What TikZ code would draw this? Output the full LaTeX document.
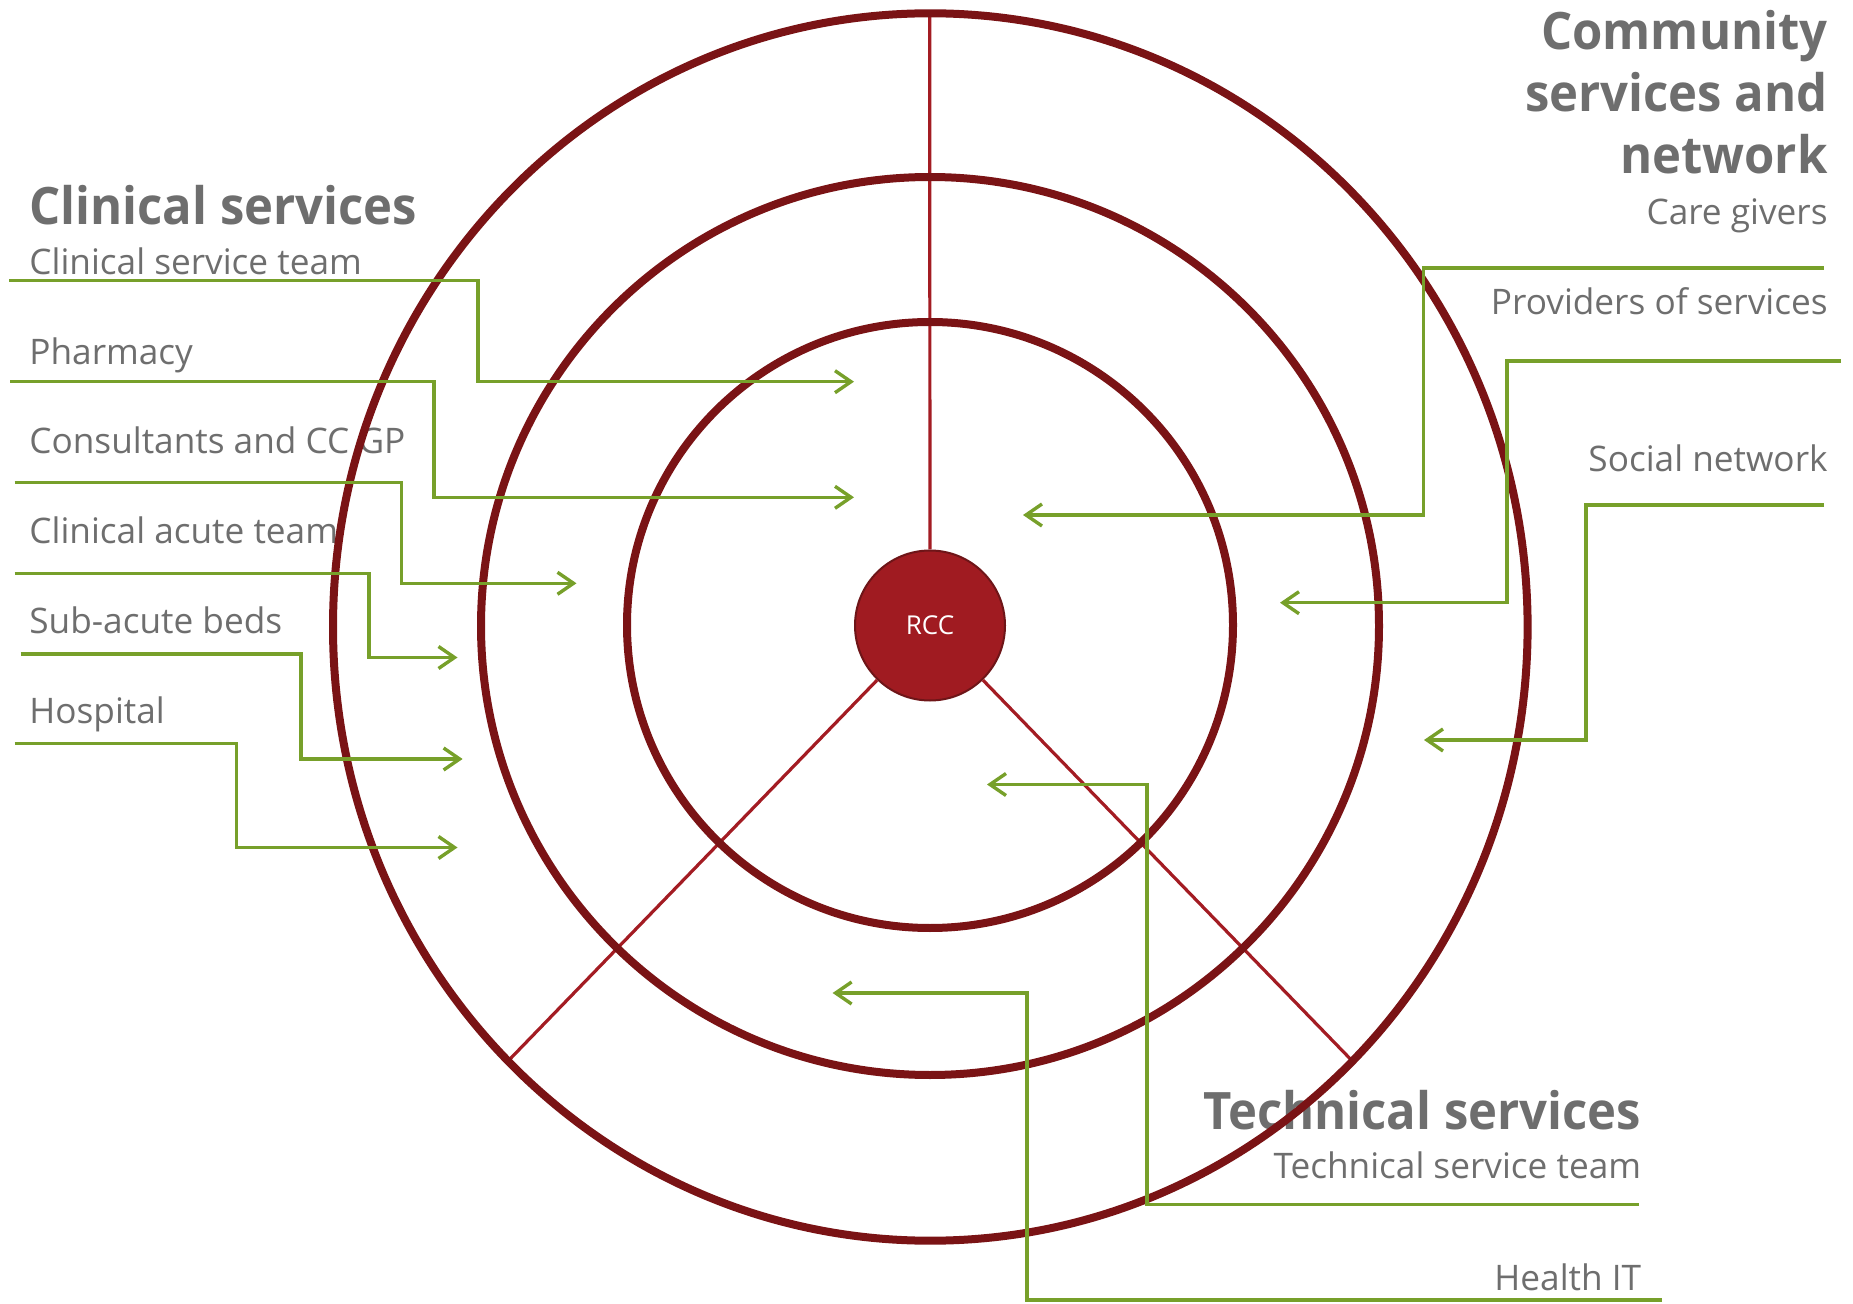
\documentclass[tikz,border=0pt]{standalone}
\usepackage{fontspec}
\setmainfont{Open Sans}
\newfontfamily\headfont{Open Sans}[FakeStretch=0.95]
\usetikzlibrary{arrows.meta}
\definecolor{ring}{HTML}{7A1315}
\definecolor{spoke}{HTML}{A31C23}
\definecolor{hub}{HTML}{A01B21}
\definecolor{hubline}{HTML}{6E1518}
\definecolor{linkgreen}{HTML}{77A02A}
\definecolor{txt}{HTML}{6E6E6E}

\begin{document}
\begin{tikzpicture}[x=0.5pt,y=-0.5pt,
  ringline/.style={draw=ring,line width=4pt},
  spokeline/.style={draw=spoke,line width=1.6pt},
  feed/.style={draw=linkgreen,line width=1.7pt,-{Straight Barb[length=8pt,width=11pt]}},
  head/.style={text=txt,font=\headfont\bfseries\fontsize{25.8}{31}\selectfont,inner sep=0pt},
  lab/.style={text=txt,font=\fontsize{17.6}{20}\selectfont,inner sep=0pt},
]
\useasboundingbox (0,0) rectangle (1853,1304);

% ---- text blocks ----
\node[head,anchor=base west] (clin) at (29,225) {Clinical services};
\node[lab,anchor=base west] (cst) at (29,274.3) {Clinical service team};
\node[lab,anchor=base west] (pha) at (29,365) {Pharmacy};
\node[lab,anchor=base west] (con) at (29,454) {Consultants and CC GP};
\node[lab,anchor=base west] (cat) at (29,543.3) {Clinical acute team};
\node[lab,anchor=base west] (sab) at (29,634) {Sub-acute beds};
\node[lab,anchor=base west] (hos) at (29,723.3) {Hospital};

% base anchor of a multi-line node sits on its last line
\node[head,anchor=base east,align=right] (comm) at (1828,174) {Community\\services and\\network};
\node[lab,anchor=base east] (cg) at (1828,224.5) {Care givers};
\node[lab,anchor=base east] (pos) at (1828,314.5) {Providers of services};
\node[lab,anchor=base east] (soc) at (1828,471.7) {Social network};

\node[head,anchor=base east] (tech) at (1641.5,1129.3) {Technical services};
\node[lab,anchor=base east] (tst) at (1641.5,1178.3) {Technical service team};
\node[lab,anchor=base east] (hit) at (1641.5,1290.7) {Health IT};

% ---- hub and spokes ----
\node[circle,fill=hub,draw=hubline,line width=1pt,minimum size=75pt,inner sep=0pt,
      text=white,font=\fontsize{13}{15}\selectfont] (rcc) at (930,625.5) {RCC};
\coordinate (sp-n) at (929.7,13.3);
\coordinate (sp-sw) at (507.9,1061.2);
\coordinate (sp-se) at (1352.5,1061.2);
\draw[spokeline] (rcc) -- (sp-n);
\draw[spokeline] (rcc) -- (sp-sw);
\draw[spokeline] (rcc) -- (sp-se);

% ---- rings ----
\draw[ringline] (930.3,627) ellipse [x radius=298.65pt, y radius=306.85pt];
\draw[ringline] (930,626) circle [radius=224.5pt];
\draw[ringline] (930,625) circle [radius=151.5pt];

% ---- connectors, clinical side ----
\coordinate (cst-s) at (9,280.7);   \coordinate (cst-b) at (478,381.7);   \coordinate (cst-t) at (854,381.7);
\coordinate (pha-s) at (10,381.7);  \coordinate (pha-b) at (434,497.3);   \coordinate (pha-t) at (854,497.3);
\coordinate (con-s) at (14.6,482.7);\coordinate (con-b) at (401.3,583.3); \coordinate (con-t) at (576.5,583.3);
\coordinate (cat-s) at (14.6,573.3);\coordinate (cat-b) at (369,657.5);   \coordinate (cat-t) at (457.5,657.5);
\coordinate (sab-s) at (20.6,654);  \coordinate (sab-b) at (301,759);     \coordinate (sab-t) at (462.6,759);
\coordinate (hos-s) at (14.6,743.3);\coordinate (hos-b) at (236.5,847.5); \coordinate (hos-t) at (457.5,847.5);
\foreach \n in {cst,pha,con,cat,sab,hos}
  \draw[feed] (\n-s) -| (\n-b) -- (\n-t);

% ---- connectors, community side ----
\coordinate (cg-s) at (1824,268);    \coordinate (cg-b) at (1423.5,515);  \coordinate (cg-t) at (1023,515);
\coordinate (pos-s) at (1841,361);   \coordinate (pos-b) at (1507,602.7); \coordinate (pos-t) at (1280,602.7);
\coordinate (soc-s) at (1824,505);   \coordinate (soc-b) at (1586,740);   \coordinate (soc-t) at (1424,740);
% ---- connectors, technical side ----
\coordinate (tst-s) at (1639,1204.3);\coordinate (tst-b) at (1147,784.5); \coordinate (tst-t) at (987,784.5);
\coordinate (hit-s) at (1662,1300);  \coordinate (hit-b) at (1027,993);   \coordinate (hit-t) at (832.6,993);
\foreach \n in {cg,pos,soc,tst,hit}
  \draw[feed] (\n-s) -| (\n-b) -- (\n-t);
\end{tikzpicture}
\end{document}
